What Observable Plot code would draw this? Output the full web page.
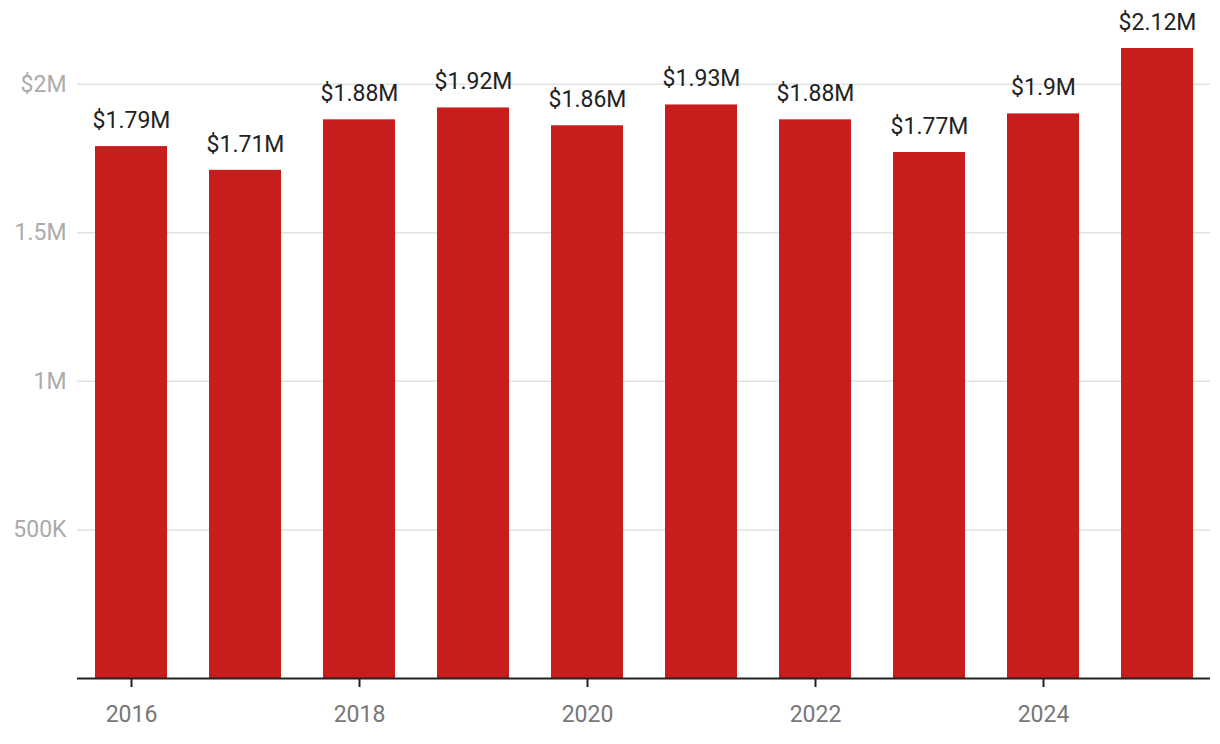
<!DOCTYPE html>
<html>
<head>
<meta charset="utf-8">
<script src="https://cdn.jsdelivr.net/npm/d3@7"></script>
<script src="https://cdn.jsdelivr.net/npm/@observablehq/plot@0.6"></script>
<style>
  html, body { margin: 0; padding: 0; background: #fff; }
  svg { display: block; }
</style>
</head>
<body>
<div id="chart"></div>
<script>
const years = [2016, 2017, 2018, 2019, 2020, 2021, 2022, 2023, 2024, 2025];
const values = [1.79e6, 1.71e6, 1.88e6, 1.92e6, 1.86e6, 1.93e6, 1.88e6, 1.77e6, 1.9e6, 2.12e6];
const valueLabels = ["$1.79M", "$1.71M", "$1.88M", "$1.92M", "$1.86M", "$1.93M", "$1.88M", "$1.77M", "$1.9M", "$2.12M"];
const yTicks = [500000, 1000000, 1500000, 2000000];
const yTickLabels = ["500K", "1M", "1.5M", "$2M"];
const xTicks = [2016, 2018, 2020, 2022, 2024];

const data = years.map((year, i) => ({year, value: values[i], label: valueLabels[i]}));

const chart = Plot.plot({
  width: 1220,
  height: 744,
  marginTop: 48,
  marginBottom: 66,
  marginLeft: 77,
  marginRight: 10,
  style: {fontFamily: "Roboto, sans-serif", background: "#fff"},
  x: {type: "band", domain: years, paddingInner: 0.37, paddingOuter: 0.15, axis: null, label: null},
  y: {domain: [0, 2.12e6], axis: null, label: null},
  marks: [
    Plot.gridY(yTicks, {stroke: "#e2e2e2", strokeOpacity: 1, strokeWidth: 1.5}),
    Plot.axisY(yTicks, {
      tickSize: 0, tickPadding: 11, fontSize: 23, color: "#ababab", label: null,
      tickFormat: d => yTickLabels[yTicks.indexOf(d)]
    }),
    Plot.barY(data, {x: "year", y: "value", fill: "#c91d1d"}),
    Plot.ruleY([0], {stroke: "#222", strokeWidth: 2}),
    Plot.axisX(xTicks, {tickSize: 9, tickFormat: () => "", color: "#222", strokeWidth: 2, label: null}),
    Plot.axisX(xTicks, {tickSize: 0, tickPadding: 27, fontSize: 23, color: "#777", label: null, tickFormat: d => String(d)}),
    Plot.text(data, {x: "year", y: "value", text: "label", dy: -26, fontSize: 23, fill: "#222"})
  ]
});
document.getElementById("chart").append(chart);
</script>
</body>
</html>
